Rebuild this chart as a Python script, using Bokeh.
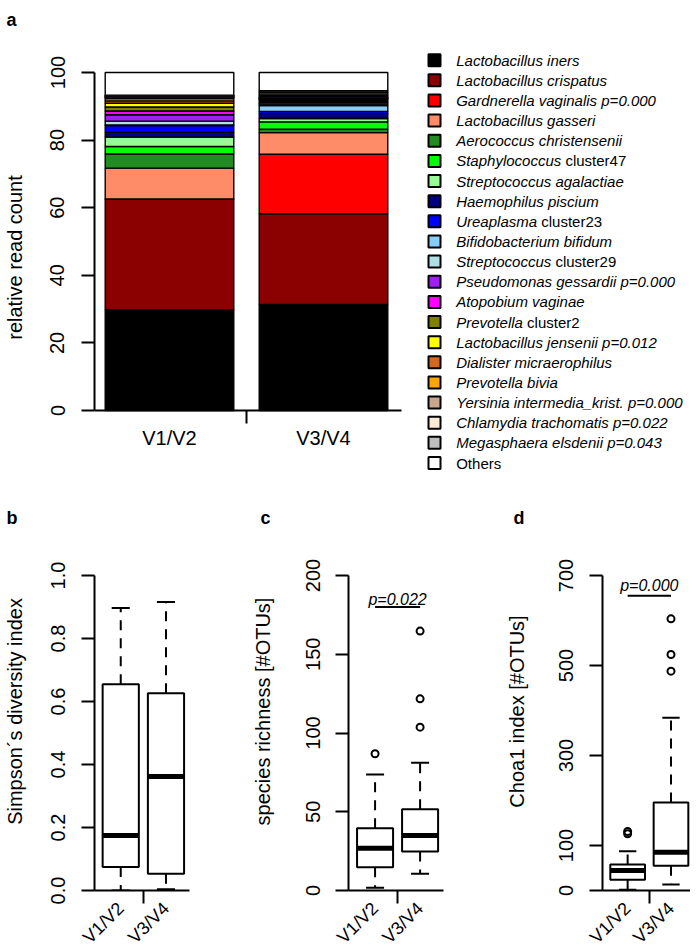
import numpy as np
from bokeh.plotting import figure
from bokeh.models import (ColumnDataSource, Range1d, FixedTicker, LinearAxis,
                          NumeralTickFormatter)
from bokeh.layouts import row, column
from bokeh.embed import file_html
from bokeh.resources import INLINE
from bokeh.core.properties import value

FONT = "Liberation Sans"

# ---------------- data ----------------
groups = ["V1/V2", "V3/V4"]
group_x = [1, 2]

taxa_italic = [
    "Lactobacillus iners", "Lactobacillus crispatus", "Gardnerella vaginalis p=0.000",
    "Lactobacillus gasseri", "Aerococcus christensenii", "Staphylococcus",
    "Streptococcus agalactiae", "Haemophilus piscium", "Ureaplasma",
    "Bifidobacterium bifidum", "Streptococcus", "Pseudomonas gessardii p=0.000",
    "Atopobium vaginae", "Prevotella", "Lactobacillus jensenii p=0.012",
    "Dialister micraerophilus", "Prevotella bivia", "Yersinia intermedia_krist. p=0.000",
    "Chlamydia trachomatis p=0.022", "Megasphaera elsdenii p=0.043", "",
]
taxa_plain = [
    "", "", "", "", "", "cluster47", "", "", "cluster23", "", "cluster29", "",
    "", "cluster2", "", "", "", "", "", "", "Others",
]
taxa_colors = [
    "#000000", "#8B0000", "#FF0000", "#FF8C69", "#228B22", "#00FF00",
    "#98FB98", "#000080", "#0000FF", "#87CEFA", "#B0E0E6", "#A020F0",
    "#FF00FF", "#808000", "#FFFF00", "#D2691E", "#FFA500", "#C9A68C",
    "#FAEBD7", "#BEBEBE", "#FFFFFF",
]
v12_share = [29.8, 32.7, 0.1, 9.1, 4.2, 2.2, 2.8, 1.4, 2.0, 0.2, 1.1, 1.9,
             1.1, 1.2, 1.1, 0.7, 0.7, 0.4, 0.3, 0.3, 6.7]
v34_share = [31.4, 26.8, 17.6, 6.4, 1.0, 2.2, 1.0, 1.5, 0.6, 1.7, 0.5, 0.5,
             0.4, 0.4, 0.3, 0.4, 0.4, 0.5, 0.5, 0.5, 5.4]

bar_ticks = [0, 20, 40, 60, 80, 100]

# box stats: [lower whisker, Q1, median, Q3, upper whisker]
simpson_stats = [[0.0, 0.075, 0.175, 0.655, 0.897], [0.004, 0.053, 0.362, 0.626, 0.916]]
simpson_out = [[], []]
simpson_ticks = [0, 0.2, 0.4, 0.6, 0.8, 1.0]

rich_stats = [[1.7, 14.8, 26.9, 39.6, 73.7], [10.6, 24.8, 34.9, 51.6, 81.1]]
rich_out = [[86.8], [103.7, 121.7, 164.7]]
rich_ticks = [0, 50, 100, 150, 200]
rich_p = "p=0.022"
rich_p_y = 180

chao_stats = [[1.5, 23.7, 44.4, 57.8, 87.4], [13.3, 54.8, 85.2, 195.6, 383.7]]
chao_out = [[126, 131], [487.4, 524.4, 603.7]]
chao_ticks = [0, 100, 300, 500, 700]
chao_p = "p=0.000"
chao_p_y = 655

# ---------------- helpers ----------------
ARIAL = {' ': 278, '.': 278, '_': 556, '=': 584, 'a': 556, 'b': 556, 'c': 500, 'd': 556,
         'e': 556, 'f': 278, 'g': 556, 'h': 556, 'i': 222, 'j': 222, 'k': 500, 'l': 222,
         'm': 833, 'n': 556, 'o': 556, 'p': 556, 'q': 556, 'r': 333, 's': 500, 't': 278,
         'u': 556, 'v': 500, 'w': 722, 'x': 500, 'y': 500, 'z': 500, 'A': 667, 'B': 667,
         'C': 722, 'D': 722, 'G': 778, 'H': 722, 'L': 556, 'M': 833, 'O': 778, 'P': 667,
         'S': 667, 'U': 722, 'Y': 667}


def text_w(s, size):
    return sum(ARIAL.get(c, 556) for c in s) * size / 1000.0


def base_fig(fw, fh, xr, yr, bl, br, bt, bb, title, toff, **kw):
    p = figure(frame_width=fw, frame_height=fh, x_range=Range1d(*xr), y_range=Range1d(*yr),
               output_backend="svg", toolbar_location=None, title=title,
               min_border_left=bl, min_border_right=br, min_border_top=bt, min_border_bottom=bb,
               **kw)
    p.outline_line_color = None
    p.xgrid.visible = False
    p.ygrid.visible = False
    p.background_fill_color = "white"
    p.border_fill_color = "white"
    p.title.text_font = FONT
    p.title.text_font_style = "bold"
    p.title.text_font_size = "18px"
    p.title.text_color = "black"
    p.title.align = "left"
    p.title.offset = toff
    return p


def style_y(p, ticks, label, s1, s2, fmt=None):
    ya = p.yaxis[0]
    ya.ticker = FixedTicker(ticks=ticks)
    ya.bounds = (ticks[0], ticks[-1])
    ya.axis_line_width = 2
    ya.axis_line_color = "black"
    ya.major_tick_line_width = 2
    ya.major_tick_line_color = "black"
    ya.major_tick_out = 13
    ya.major_tick_in = 0
    ya.minor_tick_line_color = None
    ya.major_label_orientation = "vertical"
    ya.major_label_text_font = FONT
    ya.major_label_text_font_size = "20px"
    ya.major_label_text_color = "black"
    ya.major_label_standoff = s1
    ya.axis_label = label
    ya.axis_label_text_font = FONT
    ya.axis_label_text_font_size = "20px"
    ya.axis_label_text_font_style = "normal"
    ya.axis_label_text_color = "black"
    ya.axis_label_standoff = s2
    if fmt is not None:
        ya.formatter = fmt


def style_x(p, size, orient, standoff):
    xa = p.xaxis[0]
    xa.ticker = FixedTicker(ticks=group_x, minor_ticks=[1.5])
    xa.major_label_overrides = dict(zip(group_x, groups))
    xa.major_tick_out = 0
    xa.major_tick_in = 0
    xa.minor_tick_out = 13
    xa.minor_tick_in = 0
    xa.minor_tick_line_width = 2
    xa.minor_tick_line_color = "black"
    xa.axis_line_width = 2
    xa.axis_line_color = "black"
    xa.major_label_text_font = FONT
    xa.major_label_text_font_size = size
    xa.major_label_text_color = "black"
    xa.major_label_standoff = standoff
    if orient is not None:
        xa.major_label_orientation = orient


# ---------------- panel a: stacked bars + legend (one figure) ----------------
BAR_PX = 154.0      # px per group unit
Y_PX = 3.38         # px per percent
TOP_B, TOP_FH, FW_TOP, LEFT_B = 34, 446, 596, 88
ZERO_Y = 410        # canvas y of value 0
PAGE_DX = 8         # horizontal page margin
x0 = 0.513
top = base_fig(FW_TOP, TOP_FH, (x0, x0 + FW_TOP / BAR_PX),
               (-(TOP_B + TOP_FH - ZERO_Y) / Y_PX, (ZERO_Y - TOP_B) / Y_PX),
               LEFT_B, 0, TOP_B, 0, "a", -88, x_axis_location=None)
for gx, shares in zip(group_x, [v12_share, v34_share]):
    vals = np.array(shares, dtype=float)
    tops = np.cumsum(vals)
    bottoms = tops - vals
    src = ColumnDataSource(dict(x=[gx] * len(vals), bottom=bottoms, top=tops, color=taxa_colors))
    top.vbar(x="x", width=0.835, bottom="bottom", top="top", fill_color="color",
             line_color="black", line_width=1.4, source=src)
top.add_layout(LinearAxis(fixed_location=0, bounds=(x0, 2.506)), "below")
style_y(top, bar_ticks, "relative read count", 17, 22)
style_x(top, "20px", None, 3)

# legend drawn on page-pixel extra ranges of the same figure
top.extra_x_ranges = {"leg": Range1d(LEFT_B + PAGE_DX, LEFT_B + PAGE_DX + FW_TOP)}
top.extra_y_ranges = {"leg": Range1d(TOP_B + TOP_FH, TOP_B)}
LEG_Y0, LEG_DY, SQ_X, TX_X = 59.7, 20.14, 436, 457.7
leg_y = [LEG_Y0 + LEG_DY * i for i in range(len(taxa_colors))]
top.scatter(x=[SQ_X] * len(leg_y), y=leg_y, marker="square", size=12,
            fill_color=taxa_colors, line_color="black", line_width=2,
            x_range_name="leg", y_range_name="leg")
top.text(x=[TX_X] * len(leg_y), y=leg_y, text=taxa_italic, text_font=value(FONT),
         text_font_style="italic", text_font_size="15px", text_baseline="middle",
         text_align="left", text_color="black", x_range_name="leg", y_range_name="leg")
plain_x = [TX_X + (text_w(it + " ", 15) if it else 0) for it in taxa_italic]
top.text(x=plain_x, y=leg_y, text=taxa_plain, text_font=value(FONT),
         text_font_style="normal", text_font_size="15px", text_baseline="middle",
         text_align="left", text_color="black", x_range_name="leg", y_range_name="leg")


# ---------------- box plots ----------------
BT, FH, BB = 52, 358, 55


def box_panel(stats, outs, ticks, ylabel, px_per_unit, xr, fw, bl, br, s1, s2, title, toff,
              fmt=None, ptxt=None, py=None, poff=0):
    p = base_fig(fw, FH, xr, (0, FH / px_per_unit), bl, br, BT, BB, title, toff)
    st = np.array(stats, dtype=float)
    xs = np.array(group_x, dtype=float)
    src = ColumnDataSource(dict(x=xs, lo=st[:, 0], q1=st[:, 1], med=st[:, 2], q3=st[:, 3],
                                hi=st[:, 4], left=xs - 0.4, right=xs + 0.4,
                                cl=xs - 0.2, cr=xs + 0.2))
    p.segment(x0="x", y0="q3", x1="x", y1="hi", line_dash="10 8", line_width=2,
              line_color="black", source=src)
    p.segment(x0="x", y0="q1", x1="x", y1="lo", line_dash="10 8", line_width=2,
              line_color="black", source=src)
    p.segment(x0="cl", y0="hi", x1="cr", y1="hi", line_width=2, line_color="black", source=src)
    p.segment(x0="cl", y0="lo", x1="cr", y1="lo", line_width=2, line_color="black", source=src)
    p.quad(left="left", right="right", bottom="q1", top="q3", fill_color="white",
           line_color="black", line_width=2, source=src)
    p.segment(x0="left", y0="med", x1="right", y1="med", line_width=5, line_cap="butt",
              line_color="black", source=src)
    ox = [g for g, o in zip(group_x, outs) for _ in o]
    oy = [v for o in outs for v in o]
    if ox:
        p.scatter(x=ox, y=oy, marker="circle", size=7, fill_color=None, line_color="black",
                  line_width=2)
    if ptxt is not None:
        p.segment(x0=[group_x[0]], y0=[py], x1=[group_x[1]], y1=[py], line_width=2,
                  line_color="black")
        p.text(x=[1.5], y=[py + poff], text=[ptxt], text_font=value(FONT),
               text_font_style="italic", text_font_size="16px", text_align="center",
               text_baseline="alphabetic", text_color="black")
    style_y(p, ticks, ylabel, s1, s2, fmt)
    style_x(p, "18px", np.pi / 4, 2)
    return p


pb = box_panel(simpson_stats, simpson_out, simpson_ticks, "Simpson´s diversity index", 315,
               (0.42, 2.52), 95, 88, 39, 17, 22, "b", -88,
               fmt=NumeralTickFormatter(format="0.0"))
pc = box_panel(rich_stats, rich_out, rich_ticks, "species richness [#OTUs]", 1.575,
               (0.41, 2.52), 95, 120, 15, 16, 29, "c", -88,
               ptxt=rich_p, py=rich_p_y, poff=4.5)
pd_ = box_panel(chao_stats, chao_out, chao_ticks, "Choa1 index [#OTUs]", 0.45,
                (0.42, 2.45), 88, 144, 0, 17, 28, "d", -89,
                ptxt=chao_p, py=chao_p_y, poff=22)

layout = column(top, row(pb, pc, pd_))
open("out.html", "w").write(file_html(layout, INLINE))
